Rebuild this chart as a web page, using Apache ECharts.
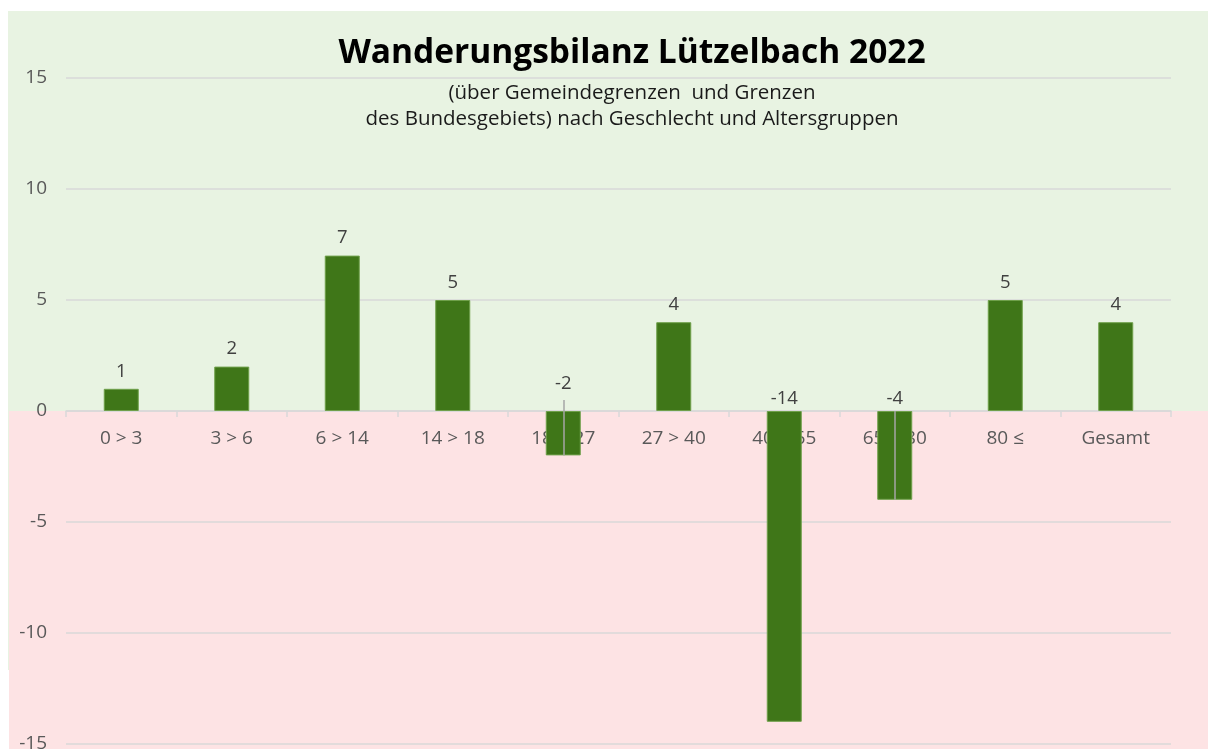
<!DOCTYPE html>
<html>
<head>
<meta charset="utf-8">
<script src="https://cdn.jsdelivr.net/npm/echarts@6/dist/echarts.min.js"></script>
<style>
    html, body { margin: 0; padding: 0; background: #fff; }
    #chart { width: 1208px; height: 749px; }
</style>
</head>
<body>
<div id="chart"></div>
<script>
// Altersgruppen
var categories = ['0 > 3', '3 > 6', '6 > 14', '14 > 18', '18 > 27', '27 > 40', '40 > 65', '65 > 80', '80 \u2264', 'Gesamt'];
// Wanderungssaldo
var values = [1, 2, 7, 5, -2, 4, -14, -4, 5, 4];
var yTicks = [-15, -10, -5, 0, 5, 10, 15];
// Beschriftungen mit Fuehrungslinie
var leaderCats = ['18 > 27', '65 > 80'];

var fontFamily = '"Open Sans", "Noto Sans", sans-serif';

window.onload = function () {
    var myChart = echarts.init(document.getElementById('chart'));

    var barData = values.map(function (v, i) {
        var dist = v >= 0 ? 8 : 3;
        if (leaderCats.indexOf(categories[i]) >= 0 && v > -3) {
            dist = 18; // label hochgeschoben
        }
        return { value: v, label: { distance: dist } };
    });

    // Kategorienamen an der Nulllinie (Achsenbeschriftung bleibt sonst unten)
    var zeroData = categories.map(function () { return 0; });

    var leaderData = [];
    leaderCats.forEach(function (c) {
        var v = values[categories.indexOf(c)];
        var top = v > -3 ? 0.5 : 0;
        leaderData.push([{ coord: [c, top] }, { coord: [c, v] }]);
    });

    var option = {
        backgroundColor: '#ffffff',
        animation: false,
        graphic: [
            { type: 'rect', z: -10, shape: { x: 8, y: 11, width: 1200, height: 659 }, style: { fill: '#e8f3e2' } },
            { type: 'rect', z: -9, shape: { x: 9, y: 411, width: 1199, height: 338 }, style: { fill: '#fde3e4' } }
        ],
        title: {
            text: 'Wanderungsbilanz Lützelbach 2022',
            subtext: '(über Gemeindegrenzen  und Grenzen\ndes Bundesgebiets) nach Geschlecht und Altersgruppen',
            left: 627,
            textAlign: 'center',
            top: 31,
            itemGap: 10,
            textStyle: { fontFamily: fontFamily, fontWeight: 'bold', fontSize: 33.5, color: '#000' },
            subtextStyle: { fontFamily: fontFamily, fontSize: 20.5, color: '#1a1a1a', lineHeight: 26 }
        },
        grid: { left: 66, right: 37, top: 78, bottom: 5, outerBoundsMode: 'none' },
        xAxis: {
            type: 'category',
            data: categories,
            axisLine: { onZero: true, lineStyle: { color: '#d9d9d9', width: 1.5 } },
            axisTick: { show: true, length: 6, lineStyle: { color: '#d9d9d9', width: 1.5 } },
            axisLabel: { show: false },
            z: 1
        },
        yAxis: {
            type: 'value',
            min: yTicks[0],
            max: yTicks[yTicks.length - 1],
            interval: 5,
            axisLine: { show: false },
            axisTick: { show: false },
            axisLabel: { color: '#595959', fontSize: 19, fontFamily: fontFamily, margin: 19 },
            splitLine: { lineStyle: { color: '#d9d9d9', width: 1.5 } }
        },
        series: [{
            type: 'bar',
            data: zeroData,
            barWidth: 35,
            silent: true,
            itemStyle: { color: 'transparent' },
            label: {
                show: true,
                position: 'bottom',
                distance: 18,
                formatter: function (p) { return categories[p.dataIndex]; },
                color: '#595959',
                fontSize: 19,
                fontFamily: fontFamily
            },
            z: 2
        }, {
            type: 'bar',
            data: barData,
            barWidth: 35,
            barGap: '-100%',
            itemStyle: { color: '#3f7618', borderColor: '#6fa04a', borderWidth: 1 },
            label: {
                show: true,
                position: 'top',
                color: '#404040',
                fontSize: 18.5,
                fontFamily: fontFamily
            },
            markLine: {
                silent: true,
                symbol: 'none',
                label: { show: false },
                lineStyle: { color: '#a6a6a6', width: 1.5, type: 'solid' },
                data: leaderData
            },
            z: 3
        }]
    };
    myChart.setOption(option);
};
</script>
</body>
</html>
